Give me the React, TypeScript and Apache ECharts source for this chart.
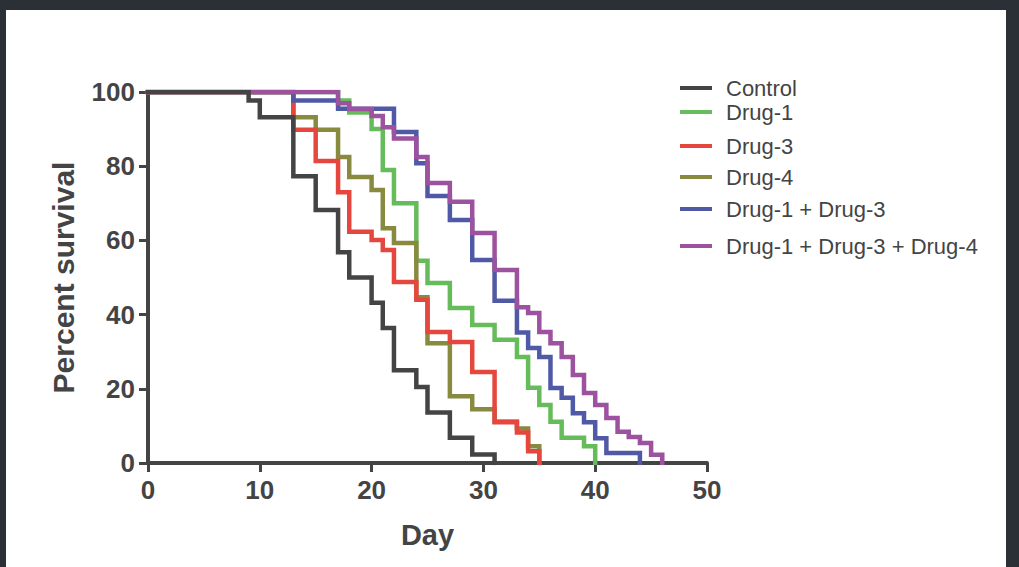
import React, { useEffect, useRef } from "react";
import * as echarts from "echarts";

const seriesNames = [
  "Control",
  "Drug-1",
  "Drug-3",
  "Drug-4",
  "Drug-1 + Drug-3",
  "Drug-1 + Drug-3 + Drug-4",
];

const controlDays = [0, 9, 10, 13, 15, 17, 18, 20, 21, 22, 24, 25, 27, 29, 31];
const controlPct = [100, 97.7, 93.2, 77.3, 68.2, 56.8, 50, 43.2, 36.4, 25, 20.5, 13.6, 6.8, 2.3, 0];

const drug1Days = [0, 17, 18, 20, 21, 22, 24, 25, 27, 29, 31, 33, 34, 35, 36, 37, 39, 40];
const drug1Pct = [100, 97.7, 94.5, 90, 79, 70, 54.5, 48.5, 41.8, 37.2, 33.2, 28.6, 20.3, 15.6, 11.1, 6.8, 4.5, 0];

const drug3Days = [0, 13, 15, 17, 18, 20, 21, 22, 24, 25, 27, 29, 31, 33, 34, 35];
const drug3Pct = [100, 89.8, 81.4, 73, 62.3, 60.1, 57.4, 48.8, 44, 35.3, 32.6, 24.5, 11, 8.2, 3.2, 0];

const drug4Days = [0, 13, 15, 17, 18, 20, 21, 22, 24, 25, 27, 29, 31, 33, 34, 35];
const drug4Pct = [100, 93.2, 89.8, 82.5, 77.1, 73.6, 63.3, 59.3, 44.7, 32.3, 18, 14.5, 11.2, 9.3, 4.5, 0];

const combo13Days = [0, 13, 17, 22, 24, 25, 27, 29, 31, 33, 34, 35, 36, 37, 38, 39, 40, 41, 44];
const combo13Pct = [100, 97.7, 95.5, 89.2, 80.8, 72, 65.5, 54.7, 43.7, 35.2, 31, 28.6, 20.2, 17.6, 13.4, 11, 6.7, 2.7, 0];

const combo134Days = [0, 17, 18, 20, 21, 22, 24, 25, 27, 29, 31, 33, 34, 35, 36, 37, 38, 39, 40, 41, 42, 43, 44, 45, 46];
const combo134Pct = [100, 97, 95.4, 93.5, 90.5, 87.5, 82.5, 75.5, 70.4, 62, 52, 42, 40.4, 35.3, 32.3, 28.6, 23.7, 18.9, 15.6, 12.1, 8.4, 7, 5.4, 2.2, 0];

const xTicks = [0, 10, 20, 30, 40, 50];
const yTicks = [0, 20, 40, 60, 80, 100];

const colors: Record<string, string> = {
  "Control": "#444444",
  "Drug-1": "#66bb5a",
  "Drug-3": "#e5473e",
  "Drug-4": "#888a40",
  "Drug-1 + Drug-3": "#5059a6",
  "Drug-1 + Drug-3 + Drug-4": "#9c529e",
};

const curves: Record<string, [number[], number[]]> = {
  "Control": [controlDays, controlPct],
  "Drug-1": [drug1Days, drug1Pct],
  "Drug-3": [drug3Days, drug3Pct],
  "Drug-4": [drug4Days, drug4Pct],
  "Drug-1 + Drug-3": [combo13Days, combo13Pct],
  "Drug-1 + Drug-3 + Drug-4": [combo134Days, combo134Pct],
};

// drawing order (later on top)
const drawOrder = [
  "Drug-1",
  "Drug-4",
  "Drug-3",
  "Drug-1 + Drug-3",
  "Drug-1 + Drug-3 + Drug-4",
  "Control",
];

const legendCenters = [88, 112, 146, 177, 209, 246];

const FONT = "'Liberation Sans', Arial, Helvetica, sans-serif";
const INK = "#444444";

export default function App() {
  const ref = useRef<HTMLDivElement>(null);

  useEffect(() => {
    if (!ref.current) return;
    const chart = echarts.init(ref.current, undefined, { renderer: "svg" });

    const series = drawOrder.map((name) => {
      const [d, p] = curves[name];
      return {
        name,
        type: "line",
        step: "end",
        showSymbol: false,
        symbol: "none",
        data: d.map((x, i) => [x, p[i]]),
        lineStyle: { color: colors[name], width: 4.5, cap: "square", join: "miter" },
        itemStyle: { color: colors[name] },
      };
    });

    const legends = seriesNames.map((name, i) => ({
      data: [name],
      orient: "vertical",
      left: 675,
      top: legendCenters[i] - 17,
      icon: "rect",
      itemWidth: 32,
      itemHeight: 4,
      itemGap: 0,
      selectedMode: false,
      textStyle: {
        fontSize: 22,
        lineHeight: 24,
        color: INK,
        fontFamily: FONT,
        padding: [0, 0, 0, 9],
      },
    }));

    chart.setOption({
      animation: false,
      backgroundColor: "#2b2f36",
      graphic: [
        {
          type: "rect",
          shape: { x: 6, y: 10, width: 1000, height: 560 },
          style: { fill: "#ffffff" },
          z: -10,
          silent: true,
        },
      ],
      legend: legends,
      grid: { left: 148, top: 92, right: 312, bottom: 104, containLabel: false },
      xAxis: {
        type: "value",
        min: xTicks[0],
        max: xTicks[xTicks.length - 1],
        interval: 10,
        name: "Day",
        nameLocation: "middle",
        nameGap: 57,
        nameTextStyle: { fontSize: 29, fontWeight: "bold", color: INK, fontFamily: FONT },
        axisLine: { show: true, lineStyle: { color: INK, width: 4 } },
        axisTick: { show: true, length: 9, lineStyle: { color: INK, width: 3 } },
        axisLabel: { fontSize: 26, fontWeight: "bold", color: INK, fontFamily: FONT, margin: 14 },
        splitLine: { show: false },
      },
      yAxis: {
        type: "value",
        min: yTicks[0],
        max: yTicks[yTicks.length - 1],
        interval: 20,
        name: "Percent survival",
        nameLocation: "middle",
        nameGap: 70,
        nameTextStyle: { fontSize: 30, fontWeight: "bold", color: INK, fontFamily: FONT },
        axisLine: { show: true, lineStyle: { color: INK, width: 4 } },
        axisTick: { show: true, length: 9, lineStyle: { color: INK, width: 3 } },
        axisLabel: { fontSize: 26, fontWeight: "bold", color: INK, fontFamily: FONT, margin: 13 },
        splitLine: { show: false },
      },
      series,
    });

    return () => chart.dispose();
  }, []);

  return (
    <div
      ref={ref}
      style={{ position: "fixed", left: 0, top: 0, width: 1019, height: 567 }}
    />
  );
}
